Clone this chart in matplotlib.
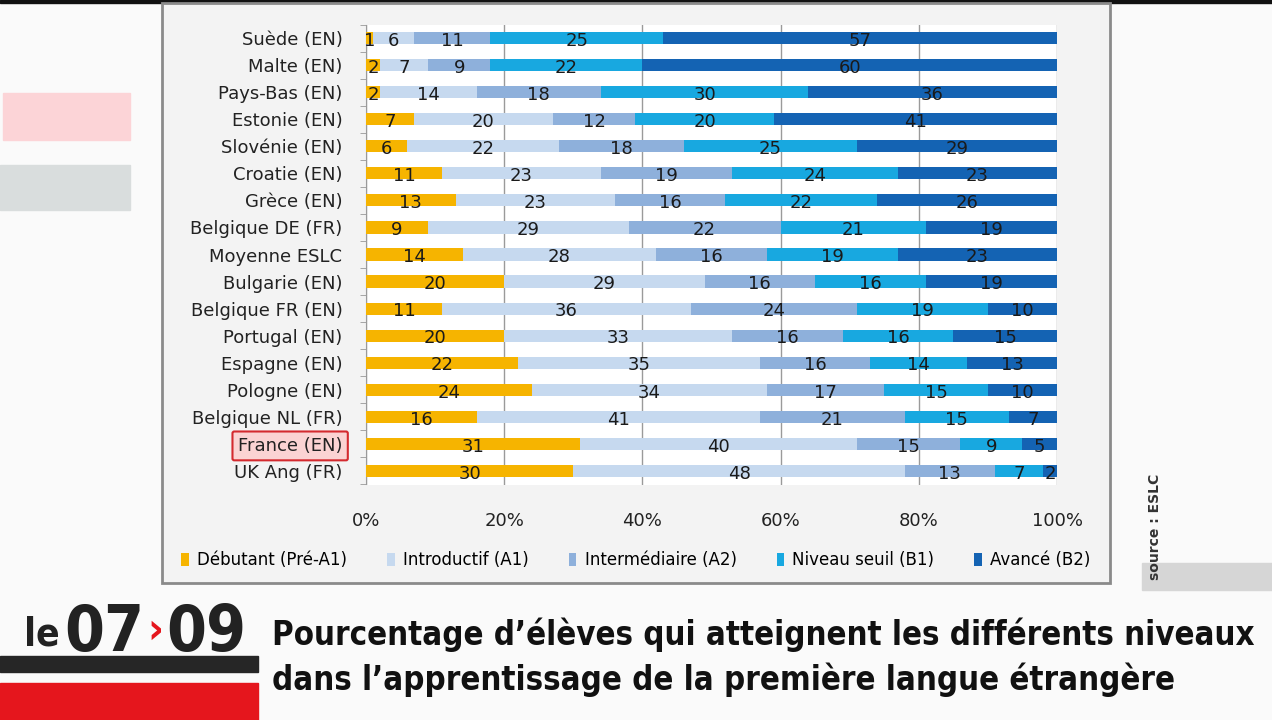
import numpy as np
import matplotlib.pyplot as plt
from matplotlib.patches import Rectangle
from matplotlib import font_manager as fm

countries = ['Suède (EN)', 'Malte (EN)', 'Pays-Bas (EN)', 'Estonie (EN)', 'Slovénie (EN)',
             'Croatie (EN)', 'Grèce (EN)', 'Belgique DE (FR)', 'Moyenne ESLC', 'Bulgarie (EN)',
             'Belgique FR (EN)', 'Portugal (EN)', 'Espagne (EN)', 'Pologne (EN)',
             'Belgique NL (FR)', 'France (EN)', 'UK Ang (FR)']
debutant      = [1, 2, 2, 7, 6, 11, 13, 9, 14, 20, 11, 20, 22, 24, 16, 31, 30]
introductif   = [6, 7, 14, 20, 22, 23, 23, 29, 28, 29, 36, 33, 35, 34, 41, 40, 48]
intermediaire = [11, 9, 18, 12, 18, 19, 16, 22, 16, 16, 24, 16, 16, 17, 21, 15, 13]
niveau_seuil  = [25, 22, 30, 20, 25, 24, 22, 21, 19, 16, 19, 16, 14, 15, 15, 9, 7]
avance        = [57, 60, 36, 41, 29, 23, 26, 19, 23, 19, 10, 15, 13, 10, 7, 5, 2]
levels = ['Débutant (Pré-A1)', 'Introductif (A1)', 'Intermédiaire (A2)',
          'Niveau seuil (B1)', 'Avancé (B2)']
colors = ['#f6b400', '#c6d9ef', '#8eb0db', '#18a8e0', '#1463b3']
xticks = [0, 20, 40, 60, 80, 100]
title_lines = ['Pourcentage d\u2019élèves qui atteignent les différents niveaux',
               'dans l\u2019apprentissage de la première langue étrangère']
source = 'source : ESLC'

W, H = 1272, 720
fig = plt.figure(figsize=(W / 100, H / 100), dpi=100)
fig.patch.set_facecolor('#fafafa')

# look for a condensed face for the TV caption
names = {f.name for f in fm.fontManager.ttflist}
cond = [f for f in fm.fontManager.ttflist
        if f.name == 'DejaVu Sans' and f.stretch == 'condensed' and f.weight in ('bold', 700)]
if 'Liberation Sans Narrow' in names:
    cap_font = dict(family=['Liberation Sans Narrow', 'DejaVu Sans'])
    title_size, big_size = 26, 48
elif cond:
    cap_font = dict(family=['DejaVu Sans'], fontstretch='condensed')
    title_size, big_size = 23.7, 46
else:
    cap_font = dict(family=['Liberation Sans', 'DejaVu Sans'])
    title_size, big_size = 20.5, 44

def px(x0, y0, x1, y1, **kw):
    # rectangle in pixel coords (origin top-left)
    fig.patches.append(Rectangle((x0 / W, 1 - y1 / H), (x1 - x0) / W, (y1 - y0) / H,
                                 transform=fig.transFigure, figure=fig, **kw))

# decoration of the TV frame
px(0, 0, W, 3, color='#111111', zorder=0)
px(3, 93, 130, 140, color='#fcd4d7', zorder=0)
px(0, 165, 130, 210, color='#d9dddd', zorder=0)
px(162, 3, 1110, 583, facecolor='#f3f3f3', edgecolor='#8a8a8a', lw=2, zorder=0)
px(1142, 563, W, 590, color='#d6d6d6', zorder=0)
px(0, 656, 258, 672, color='#262626', zorder=0)
px(0, 683, 258, H, color='#e5161d', zorder=0)

ax = fig.add_axes([366 / W, 1 - 484.5 / H, 691 / W, 460 / H])
ax.set_zorder(5)
ax.set_facecolor('white')

data = [debutant, introductif, intermediaire, niveau_seuil, avance]
y = np.arange(len(countries))
left = np.zeros(len(countries))
handles = []
for vals, col, lab in zip(data, colors, levels):
    vals = np.array(vals, dtype=float)
    b = ax.barh(y, vals, left=left, height=0.45, color=col, label=lab, zorder=3)
    handles.append(b)
    for yi, (l, v) in enumerate(zip(left, vals)):
        ax.text(l + v / 2, yi + 0.1, f'{int(v)}', ha='center', va='center',
                fontsize=13, color='#1a1a1a', zorder=4)
    left += vals

ax.set_xlim(0, 100)
ax.set_ylim(len(countries) - 0.5, -0.5)
ax.set_xticks(xticks)
ax.set_xticklabels([f'{t}%' for t in xticks], fontsize=13, color='#222222')
ax.set_yticks(y)
ax.set_yticklabels(countries, fontsize=13, color='#222222')
ax.set_yticks(np.arange(-0.5, len(countries), 1), minor=True)
ax.tick_params(axis='y', which='major', length=0, pad=17)
ax.tick_params(axis='y', which='minor', length=4, color='#999999')
ax.tick_params(axis='x', length=0, pad=20)
ax.grid(axis='x', color='#9a9a9a', lw=1, zorder=1)
for s in ['top', 'right', 'bottom']:
    ax.spines[s].set_visible(False)
ax.spines['left'].set_color('#9a9a9a')

fr = ax.get_yticklabels()[countries.index('France (EN)')]
fr.set_bbox(dict(facecolor='#fbd3d3', edgecolor='#d42a2f', lw=1.5,
                 boxstyle='round,pad=0.3,rounding_size=0.1'))

fig.legend(handles=handles, labels=levels, loc='center', ncol=5,
           bbox_to_anchor=(636 / W, 1 - 560 / H), frameon=False, fontsize=12,
           handlelength=0.45, handleheight=0.8, handletextpad=0.5, columnspacing=2.4)

fig.text(1155 / W, 1 - 527 / H, source, rotation=90, ha='center', va='center',
         fontsize=10, fontweight='bold', color='#333333')

# channel logo "le 07>09"
fig.text(24 / W, 1 - 645 / H, 'le', fontsize=28, fontweight='bold',
         color='#222222', va='baseline', **cap_font)
fig.text(64 / W, 1 - 651 / H, '07', fontsize=big_size, fontweight='bold',
         color='#222222', va='baseline', **cap_font)
fig.text(155 / W, 1 - 643 / H, '\u203a', fontsize=big_size * 0.68, fontweight='bold',
         color='#e5161d', va='baseline', ha='center', **cap_font)
fig.text(166 / W, 1 - 651 / H, '09', fontsize=big_size, fontweight='bold',
         color='#222222', va='baseline', **cap_font)
for i, line in enumerate(title_lines):
    fig.text(272 / W, 1 - (645 + 45 * i) / H, line, fontsize=title_size, fontweight='bold',
             color='#111111', va='baseline', **cap_font)

fig.savefig('out.png', dpi=100, facecolor=fig.get_facecolor())
